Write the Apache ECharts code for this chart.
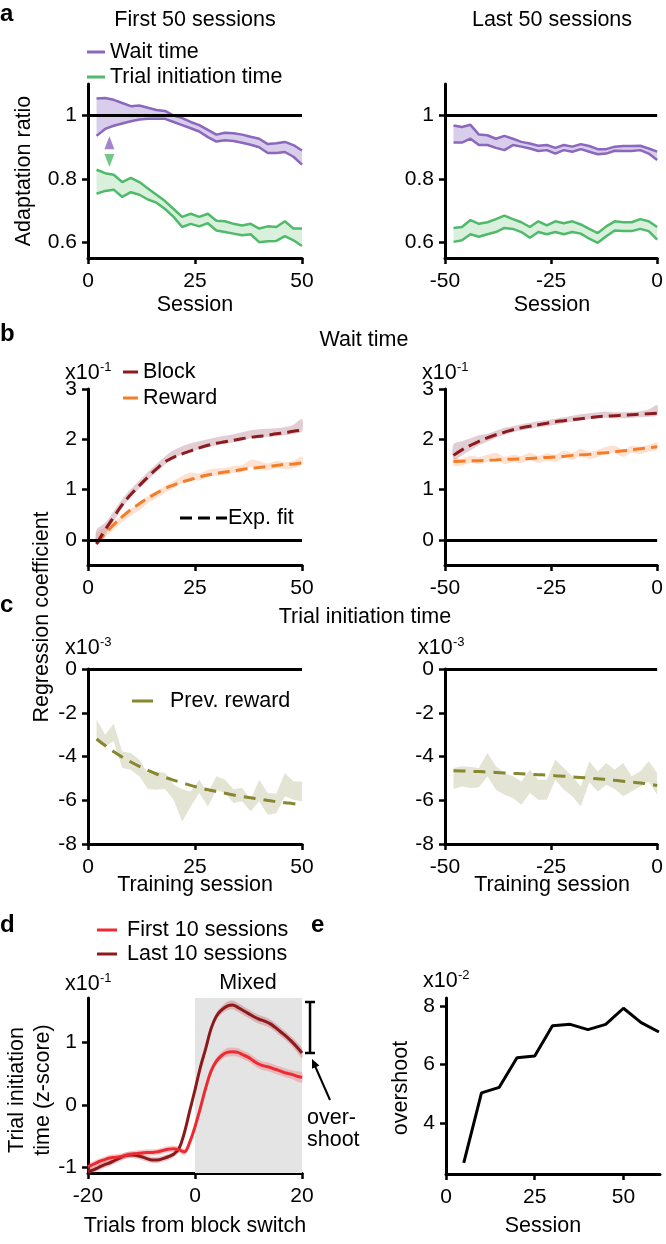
<!DOCTYPE html>
<html><head><meta charset="utf-8">
<script src="https://cdn.jsdelivr.net/npm/echarts@6/dist/echarts.min.js"></script>
<style>html,body{margin:0;padding:0;background:#fff}#c{width:666px;height:1244px}</style>
</head><body><div id="c"></div>
<script>
// ---------------- DATA ----------------
const sessFirst = [2,4,6,8,10,12,14,16,18,20,22,24,26,28,30,32,34,36,38,40,42,44,46,48,50];
const sessLast = [-48,-46,-44,-42,-40,-38,-36,-34,-32,-30,-28,-26,-24,-22,-20,-18,-16,-14,-12,-10,-8,-6,-4,-2,0];

// (a) adaptation ratio bands (upper / lower edges)
const waitUpperFirst = [1.054,1.056,1.05,1.04,1.03,1.032,1.025,1.018,1.015,1.0,0.992,0.98,0.97,0.955,0.94,0.946,0.944,0.94,0.933,0.927,0.91,0.913,0.917,0.907,0.89];
const waitLowerFirst = [0.936,0.958,0.968,0.975,0.982,0.988,0.99,0.99,0.99,0.98,0.97,0.96,0.95,0.932,0.918,0.922,0.92,0.914,0.908,0.9,0.882,0.882,0.885,0.87,0.845];
const titUpperFirst = [0.829,0.818,0.813,0.79,0.803,0.79,0.77,0.75,0.73,0.705,0.68,0.69,0.68,0.69,0.668,0.666,0.658,0.653,0.658,0.643,0.65,0.648,0.666,0.643,0.643];
const titLowerFirst = [0.753,0.762,0.766,0.743,0.758,0.75,0.735,0.725,0.705,0.68,0.648,0.658,0.65,0.66,0.637,0.632,0.627,0.622,0.625,0.6,0.603,0.604,0.619,0.606,0.588];
const waitUpperLast = [0.969,0.964,0.971,0.94,0.938,0.927,0.936,0.927,0.917,0.912,0.905,0.907,0.898,0.907,0.902,0.91,0.904,0.894,0.894,0.902,0.904,0.904,0.905,0.896,0.886];
const waitLowerLast = [0.915,0.915,0.927,0.907,0.907,0.898,0.891,0.907,0.902,0.896,0.888,0.891,0.88,0.891,0.886,0.894,0.886,0.878,0.88,0.889,0.888,0.888,0.891,0.88,0.86];
const titUpperLast = [0.645,0.648,0.67,0.658,0.663,0.673,0.684,0.673,0.663,0.648,0.666,0.653,0.666,0.66,0.666,0.656,0.642,0.629,0.65,0.666,0.663,0.663,0.673,0.666,0.648];
const titLowerLast = [0.601,0.606,0.625,0.617,0.625,0.632,0.645,0.642,0.632,0.614,0.632,0.625,0.632,0.625,0.632,0.627,0.611,0.598,0.619,0.637,0.635,0.635,0.642,0.635,0.608];
const arrowSession = 5, arrowWaitRatio = 0.914, arrowTitRatio = 0.858;

// (b) wait time regression coefficients (x10^-1)
const blockMeanFirst = [0.05,0.22,0.47,0.72,0.93,1.1,1.27,1.43,1.58,1.7,1.78,1.84,1.88,1.92,1.96,1.99,2.02,2.06,2.1,2.12,2.13,2.14,2.16,2.2,2.28];
const blockSemFirst = [0.15,0.12,0.1,0.09,0.08,0.08,0.08,0.08,0.08,0.08,0.08,0.08,0.08,0.08,0.08,0.08,0.08,0.08,0.08,0.08,0.08,0.08,0.08,0.09,0.12];
const blockFitFirst = [-0.08,0.2,0.45,0.7,0.9,1.08,1.25,1.41,1.55,1.64,1.71,1.77,1.83,1.88,1.92,1.95,1.98,2.01,2.04,2.06,2.08,2.11,2.13,2.16,2.18];
const rewardMeanFirst = [0.02,0.15,0.28,0.42,0.55,0.66,0.8,0.9,1.0,1.1,1.2,1.27,1.25,1.32,1.35,1.36,1.4,1.42,1.52,1.5,1.45,1.5,1.48,1.5,1.58];
const rewardSemFirst = [0.12,0.1,0.08,0.07,0.07,0.07,0.07,0.07,0.07,0.07,0.07,0.07,0.07,0.07,0.07,0.07,0.07,0.07,0.07,0.07,0.07,0.07,0.07,0.07,0.08];
const rewardFitFirst = [-0.08,0.12,0.3,0.46,0.6,0.72,0.83,0.93,1.02,1.09,1.15,1.2,1.25,1.29,1.32,1.35,1.37,1.4,1.42,1.44,1.46,1.48,1.5,1.51,1.53];
const blockMeanLast = [1.75,1.82,1.9,1.98,2.03,2.1,2.16,2.2,2.24,2.27,2.3,2.32,2.35,2.38,2.41,2.44,2.46,2.48,2.49,2.48,2.48,2.49,2.5,2.52,2.58];
const blockSemLast = [0.15,0.14,0.12,0.1,0.08,0.07,0.07,0.06,0.06,0.06,0.06,0.06,0.06,0.06,0.06,0.06,0.06,0.06,0.06,0.06,0.06,0.06,0.06,0.07,0.1];
const blockFitLast = [1.68,1.79,1.88,1.96,2.03,2.09,2.14,2.19,2.23,2.26,2.29,2.32,2.35,2.37,2.39,2.41,2.43,2.45,2.46,2.47,2.48,2.49,2.5,2.51,2.52];
const rewardMeanLast = [1.55,1.55,1.6,1.58,1.62,1.66,1.58,1.62,1.6,1.66,1.6,1.65,1.62,1.7,1.66,1.74,1.68,1.72,1.78,1.8,1.72,1.8,1.78,1.82,1.87];
const rewardSemLast = [0.07,0.07,0.07,0.07,0.07,0.07,0.07,0.07,0.07,0.07,0.07,0.07,0.07,0.07,0.07,0.07,0.07,0.07,0.07,0.07,0.07,0.07,0.07,0.07,0.07];
const rewardFitLast = [1.56,1.565,1.57,1.575,1.58,1.59,1.6,1.605,1.61,1.62,1.63,1.64,1.65,1.66,1.68,1.69,1.7,1.72,1.73,1.75,1.77,1.79,1.81,1.83,1.85];

// (c) trial initiation time, previous reward (x10^-3)
const prevUpperFirst = [-2.3,-3.0,-2.5,-3.77,-3.84,-4.15,-4.75,-4.68,-4.75,-5.29,-5.5,-5.6,-5.06,-5.67,-4.9,-5.06,-5.5,-5.44,-5.98,-5.06,-5.67,-5.7,-4.75,-5.14,-5.14];
const prevLowerFirst = [-3.3,-3.54,-3.3,-4.53,-4.6,-4.9,-5.49,-5.52,-5.49,-5.98,-6.97,-6.28,-5.67,-6.28,-5.52,-5.67,-6.13,-6.05,-6.5,-6.05,-6.66,-6.59,-5.82,-5.98,-6.05];
const prevFitFirst = [-3.2,-3.5,-3.78,-4.03,-4.25,-4.45,-4.63,-4.8,-4.95,-5.08,-5.2,-5.32,-5.42,-5.52,-5.6,-5.68,-5.76,-5.83,-5.89,-5.95,-6.01,-6.06,-6.11,-6.16,-6.22];
const prevUpperLast = [-4.53,-4.45,-4.48,-4.53,-3.84,-4.45,-4.75,-4.9,-5.14,-4.6,-5.06,-5.06,-4.15,-4.53,-4.9,-5.37,-4.22,-4.68,-4.3,-4.6,-4.3,-4.9,-4.68,-4.22,-4.75];
const prevLowerLast = [-5.49,-5.37,-5.44,-5.4,-4.9,-5.52,-5.75,-5.9,-6.2,-5.67,-5.98,-5.98,-5.06,-5.52,-5.82,-6.28,-5.18,-5.6,-5.29,-5.49,-5.82,-5.6,-5.37,-5.14,-5.75];
const prevFitLast = [-4.65,-4.66,-4.68,-4.69,-4.71,-4.73,-4.75,-4.77,-4.79,-4.81,-4.83,-4.85,-4.88,-4.9,-4.93,-4.96,-4.99,-5.02,-5.05,-5.09,-5.13,-5.17,-5.21,-5.26,-5.33];

// (d) trial initiation time around block switch (x10^-1)
const trialsFromSwitch = [-20,-19,-18,-17,-16,-15,-14,-13,-12,-11,-10,-9,-8,-7,-6,-5,-4,-3,-2,-1,0,1,2,3,4,5,6,7,8,9,10,11,12,13,14,15,16,17,18,19,20];
const firstTen = [-0.99,-0.95,-0.91,-0.88,-0.85,-0.84,-0.83,-0.81,-0.79,-0.78,-0.77,-0.76,-0.76,-0.75,-0.73,-0.71,-0.7,-0.72,-0.75,-0.6,-0.35,-0.05,0.27,0.54,0.7,0.79,0.84,0.85,0.84,0.8,0.76,0.7,0.65,0.62,0.6,0.57,0.54,0.51,0.49,0.46,0.44];
const lastTen = [-1.07,-1.04,-1.0,-0.96,-0.93,-0.89,-0.85,-0.81,-0.8,-0.81,-0.83,-0.86,-0.88,-0.88,-0.86,-0.83,-0.79,-0.7,-0.45,-0.1,0.24,0.6,0.9,1.22,1.42,1.52,1.58,1.6,1.56,1.51,1.46,1.41,1.37,1.34,1.3,1.24,1.17,1.1,1.02,0.93,0.83];
const firstTenSem = [0.05,0.05,0.05,0.05,0.05,0.05,0.05,0.05,0.05,0.05,0.05,0.05,0.05,0.05,0.05,0.05,0.05,0.05,0.05,0.05,0.06,0.06,0.06,0.06,0.06,0.06,0.07,0.07,0.07,0.07,0.07,0.07,0.07,0.07,0.07,0.07,0.07,0.07,0.07,0.08,0.08];
const lastTenSem = [0.05,0.05,0.05,0.05,0.05,0.05,0.05,0.05,0.05,0.05,0.05,0.05,0.05,0.05,0.05,0.05,0.05,0.05,0.05,0.05,0.06,0.06,0.06,0.06,0.06,0.06,0.07,0.07,0.07,0.07,0.07,0.07,0.07,0.07,0.07,0.07,0.07,0.07,0.07,0.08,0.08];
const bracketTrial = 21.5, overshootTop = 1.646, overshootBottom = 0.83;

// (e) overshoot (x10^-2)
const overshootSessions = [5,10,15,20,25,30,35,40,45,50,55,60];
const overshootValues = [2.64,5.03,5.22,6.23,6.29,7.32,7.37,7.19,7.37,7.92,7.43,7.11];

// tick labels
const ticksFirst = [0,25,50], ticksLast = [-50,-25,0];
const ticksRatio = [0.6,0.8,1], ticksWait = [0,1,2,3], ticksInit = [-8,-6,-4,-2,0];
const ticksTrials = [-20,0,20], ticksD = [-1,0,1], ticksE = [4,6,8], ticksESess = [0,25,50];

// ---------------- STYLE / BUILD ----------------
const FF = '"Liberation Sans", Arial, Helvetica, sans-serif';
const FS = 21.5;
const C = {
  purple:'#8b67bd', purpleFill:'#d8cdea', green:'#4fba6a', greenFill:'#d8f0dc',
  block:'#8c1a1e', blockFill:'rgba(185,135,148,0.42)', reward:'#f57d2a', rewardFill:'rgba(250,185,145,0.42)',
  olive:'#86872f', oliveFill:'#e3e4d4', red:'#ee2a30', dark:'#8c1a1a',
  redFill:'rgba(240,80,90,0.3)', darkFill:'rgba(190,70,80,0.3)', gray:'#e4e4e4'
};

function xAx(g, min, max, ticks) {
  return {type:'value', gridIndex:g, min:min, max:max,
    axisLine:{show:true, onZero:false, lineStyle:{color:'#000', width:3}},
    axisTick:{show:true, length:6, lineStyle:{color:'#000', width:2.5}, customValues:ticks},
    axisLabel:{show:true, customValues:ticks, color:'#000', fontSize:21, fontFamily:FF, margin:13},
    splitLine:{show:false}};
}
function yAx(g, min, max, ticks) {
  return {type:'value', gridIndex:g, min:min, max:max,
    axisLine:{show:true, onZero:false, lineStyle:{color:'#000', width:3}},
    axisTick:{show:true, length:6, lineStyle:{color:'#000', width:2.5}, customValues:ticks},
    axisLabel:{show:true, customValues:ticks, color:'#000', fontSize:21, fontFamily:FF, margin:11},
    splitLine:{show:false}};
}
const zip = (xs, ys) => xs.map((x,i) => [x, ys[i]]);
// shaded band between two edges, drawn as one polygon through the axis scales
function band(g, xs, lo, hi, fill, smooth) {
  return {type:'custom', coordinateSystem:'cartesian2d', xAxisIndex:g, yAxisIndex:g, silent:true, animation:false, z:1,
    data:[[xs[0], lo[0]]],
    renderItem: function (params, api) {
      const top = xs.map((x,i) => api.coord([x, hi[i]]));
      const bot = xs.map((x,i) => api.coord([x, lo[i]])).reverse();
      return {type:'polygon', shape:{points: top.concat(bot), smooth: smooth ? 0.3 : 0}, style:{fill:fill}};
    }};
}
const plus = (m, s) => m.map((v,i) => v + s[i]);
const minus = (m, s) => m.map((v,i) => v - s[i]);
function line(g, xs, ys, color, width, dash, smooth, extra) {
  return Object.assign({type:'line', xAxisIndex:g, yAxisIndex:g, data:zip(xs, ys), symbol:'none', silent:true, smooth:smooth || false, animation:false,
    lineStyle:{color:color, width:width, type:dash || 'solid'}, z:3}, extra || {});
}
function refLine(v) {
  return {silent:true, symbol:'none', label:{show:false}, animation:false, lineStyle:{color:'#000', width:3, type:'solid'}, data:[{yAxis:v}]};
}

const series = [];
// (a)
series.push(band(0, sessFirst, waitLowerFirst, waitUpperFirst, C.purpleFill));
series.push(band(0, sessFirst, titLowerFirst, titUpperFirst, C.greenFill));
series.push(line(0, sessFirst, waitUpperFirst, C.purple, 2.5));
series.push(line(0, sessFirst, waitLowerFirst, C.purple, 2.5));
series.push(line(0, sessFirst, titUpperFirst, C.green, 2.5));
series.push(line(0, sessFirst, titLowerFirst, C.green, 2.5, 'solid', false, {markLine: refLine(1)}));
series.push({type:'scatter', xAxisIndex:0, yAxisIndex:0, silent:true, symbol:'triangle', symbolSize:[10,13], data:[[arrowSession, arrowWaitRatio]], itemStyle:{color:C.purple}, z:4});
series.push({type:'scatter', xAxisIndex:0, yAxisIndex:0, silent:true, symbol:'triangle', symbolRotate:180, symbolSize:[10,13], data:[[arrowSession, arrowTitRatio]], itemStyle:{color:C.green}, z:4});
series.push(band(1, sessLast, waitLowerLast, waitUpperLast, C.purpleFill));
series.push(band(1, sessLast, titLowerLast, titUpperLast, C.greenFill));
series.push(line(1, sessLast, waitUpperLast, C.purple, 2.5));
series.push(line(1, sessLast, waitLowerLast, C.purple, 2.5));
series.push(line(1, sessLast, titUpperLast, C.green, 2.5));
series.push(line(1, sessLast, titLowerLast, C.green, 2.5, 'solid', false, {markLine: refLine(1)}));
// (b)
series.push(band(2, sessFirst, minus(rewardMeanFirst, rewardSemFirst), plus(rewardMeanFirst, rewardSemFirst), C.rewardFill, true));
series.push(band(2, sessFirst, minus(blockMeanFirst, blockSemFirst), plus(blockMeanFirst, blockSemFirst), C.blockFill, true));
series.push(line(2, sessFirst, rewardFitFirst, C.reward, 3, [12,6], true));
series.push(line(2, sessFirst, blockFitFirst, C.block, 3, [12,6], true, {markLine: refLine(0)}));
series.push(band(3, sessLast, minus(rewardMeanLast, rewardSemLast), plus(rewardMeanLast, rewardSemLast), C.rewardFill, true));
series.push(band(3, sessLast, minus(blockMeanLast, blockSemLast), plus(blockMeanLast, blockSemLast), C.blockFill, true));
series.push(line(3, sessLast, rewardFitLast, C.reward, 3, [12,6], true));
series.push(line(3, sessLast, blockFitLast, C.block, 3, [12,6], true, {markLine: refLine(0)}));
// (c)
series.push(band(4, sessFirst, prevLowerFirst, prevUpperFirst, C.oliveFill));
series.push(line(4, sessFirst, prevFitFirst, C.olive, 3, [12,8], true, {markLine: refLine(0)}));
series.push(band(5, sessLast, prevLowerLast, prevUpperLast, C.oliveFill));
series.push(line(5, sessLast, prevFitLast, C.olive, 3, [12,8], true, {markLine: refLine(0)}));
// (d)
series.push({type:'line', xAxisIndex:6, yAxisIndex:6, data:[], silent:true, symbol:'none', z:0,
  markArea:{silent:true, itemStyle:{color:C.gray}, data:[[{xAxis:0},{xAxis:20}]]}});
series.push(band(6, trialsFromSwitch, minus(lastTen, lastTenSem), plus(lastTen, lastTenSem), C.darkFill, true));
series.push(band(6, trialsFromSwitch, minus(firstTen, firstTenSem), plus(firstTen, firstTenSem), C.redFill, true));
series.push(line(6, trialsFromSwitch, lastTen, C.dark, 3, 'solid', 0.4));
series.push(line(6, trialsFromSwitch, firstTen, C.red, 3, 'solid', 0.4));
// overshoot bracket (peak to end of the "Last 10 sessions" curve), drawn beside the plot
series.push({type:'custom', coordinateSystem:'cartesian2d', xAxisIndex:6, yAxisIndex:6, silent:true, animation:false, clip:false, z:4,
  data:[[bracketTrial, overshootTop, overshootBottom]],
  renderItem: function (params, api) {
    const t = api.coord([api.value(0), api.value(1)]);
    const b = api.coord([api.value(0), api.value(2)]);
    const st = {stroke:'#000', lineWidth:2.5};
    return {type:'group', children:[
      {type:'line', shape:{x1:t[0]-5, y1:t[1], x2:t[0]+5, y2:t[1]}, style:st},
      {type:'line', shape:{x1:t[0], y1:t[1], x2:b[0], y2:b[1]}, style:st},
      {type:'line', shape:{x1:b[0]-5, y1:b[1], x2:b[0]+5, y2:b[1]}, style:st}
    ]};
  }});
// (e)
series.push(line(7, overshootSessions, overshootValues, '#000', 3, 'solid', false));

// ---------------- GRAPHIC (titles, legends, annotations) ----------------
function txt(x, y, text, st, extra) {
  return Object.assign({type:'text', x:x, y:y, silent:true,
    style:Object.assign({text:text, fill:'#000', fontSize:FS, fontFamily:FF, align:'left', verticalAlign:'middle'}, st || {})}, extra || {});
}
function seg(x1, y1, x2, y2, color, w, dash) {
  return {type:'line', silent:true, shape:{x1:x1, y1:y1, x2:x2, y2:y2}, style:{stroke:color, lineWidth:w, lineDash:dash || null}};
}
const bold = {fontWeight:'bold', fontSize:24};
const rot = {rotation: Math.PI/2};
const g = [
  txt(0, 14, 'a', bold), txt(0, 334, 'b', bold), txt(0, 605, 'c', bold), txt(0, 925, 'd', bold), txt(311, 925, 'e', bold),
  txt(195, 20, 'First 50 sessions', {align:'center'}),
  txt(552, 20, 'Last 50 sessions', {align:'center'}),
  seg(87, 52, 105, 52, C.purple, 3), txt(110, 52, 'Wait time'),
  seg(87, 77, 105, 77, C.green, 3), txt(110, 77, 'Trial initiation time'),
  txt(24, 171, 'Adaptation ratio', {align:'center'}, rot),
  txt(195, 305, 'Session', {align:'center'}), txt(552, 305, 'Session', {align:'center'}),
  txt(364, 340, 'Wait time', {align:'center'}),
  txt(65, 373, 'x10'), txt(100, 367, '-1', {fontSize:13}),
  txt(422, 373, 'x10'), txt(457, 367, '-1', {fontSize:13}),
  seg(123, 372, 138, 372, C.block, 3), txt(143, 372, 'Block'),
  seg(123, 398, 138, 398, C.reward, 3), txt(143, 398, 'Reward'),
  seg(180, 518, 227, 518, '#000', 3, [12,6]), txt(228, 518, 'Exp. fit'),
  txt(42, 617, 'Regression coefficient', {align:'center'}, rot),
  txt(365, 617, 'Trial initiation time', {align:'center'}),
  txt(65, 648, 'x10'), txt(100, 642, '-3', {fontSize:13}),
  txt(418, 648, 'x10'), txt(453, 642, '-3', {fontSize:13}),
  seg(132, 701, 153, 701, C.olive, 3), txt(170, 701, 'Prev. reward'),
  txt(195, 885, 'Training session', {align:'center'}), txt(552, 885, 'Training session', {align:'center'}),
  seg(97, 930, 117, 930, C.red, 3), txt(127, 930, 'First 10 sessions'),
  seg(97, 954, 117, 954, C.dark, 3), txt(127, 954, 'Last 10 sessions'),
  txt(65, 984, 'x10'), txt(100, 978, '-1', {fontSize:13}),
  txt(248, 983, 'Mixed', {align:'center'}),
  txt(423, 981, 'x10'), txt(458, 975, '-2', {fontSize:13}),
  txt(30, 1090, 'Trial initiation\ntime (z-score)', {align:'center', lineHeight:26}, rot),
  txt(401, 1088, 'overshoot', {align:'center'}, rot),
  txt(307, 1118, 'over-'), txt(307, 1140, 'shoot'),
  seg(330, 1100, 315, 1066, '#000', 2),
  {type:'polygon', silent:true, shape:{points:[[312,1059],[319.4,1065.6],[312,1068.8]]}, style:{fill:'#000'}},
  txt(195, 1226, 'Trials from block switch', {align:'center'}),
  txt(543, 1226, 'Session', {align:'center'})
];

const option = {
  animation:false,
  backgroundColor:'#fff',
  grid:[
    {left:88, top:84, width:214, height:174},
    {left:445, top:84, width:215, height:174},
    {left:88, top:389, width:214, height:176},
    {left:445, top:389, width:215, height:176},
    {left:88, top:669, width:214, height:175},
    {left:445, top:669, width:215, height:175},
    {left:88, top:998, width:214, height:175},
    {left:446, top:998, width:214, height:176}
  ],
  xAxis:[
    xAx(0, 0, 50, ticksFirst), xAx(1, -50, 0, ticksLast),
    xAx(2, 0, 50, ticksFirst), xAx(3, -50, 0, ticksLast),
    xAx(4, 0, 50, ticksFirst), xAx(5, -50, 0, ticksLast),
    xAx(6, -20, 20, ticksTrials), xAx(7, 0, 60.3, ticksESess)
  ],
  yAxis:[
    yAx(0, 0.55, 1.1, ticksRatio), yAx(1, 0.55, 1.1, ticksRatio),
    yAx(2, -0.5, 3, ticksWait), yAx(3, -0.5, 3, ticksWait),
    yAx(4, -8, 0, ticksInit), yAx(5, -8, 0, ticksInit),
    yAx(6, -1.09, 1.71, ticksD), yAx(7, 2.26, 8.27, ticksE)
  ],
  series: series,
  graphic: {elements: g}
};
const chart = echarts.init(document.getElementById('c'), null, {renderer:'canvas'});
chart.setOption(option);
</script>
</body></html>
